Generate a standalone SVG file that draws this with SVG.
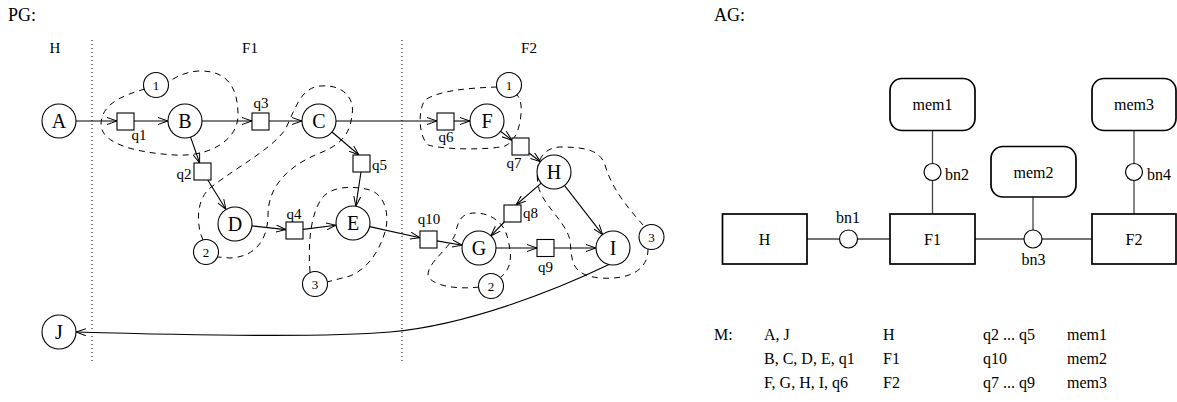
<svg xmlns="http://www.w3.org/2000/svg" width="1177" height="402" viewBox="0 0 1177 402">
<style>
text{font-family:"Liberation Serif","Times New Roman",serif;fill:#000}
.t{font-size:18px}
.lab{font-size:15px}
.q{font-size:15px}
.nl{font-size:20px;text-anchor:middle}
.sn{font-size:13px;text-anchor:middle}
.ag{font-size:16px}
.c{text-anchor:middle}
.node{fill:#fff;stroke:#000;stroke-width:1.1}
.sq{fill:#fff;stroke:#000;stroke-width:1.1}
.e{fill:none;stroke:#000;stroke-width:1.1;marker-end:url(#arr)}
.dash{fill:none;stroke:#000;stroke-width:1;stroke-dasharray:6,5}
.dot{stroke:#000;stroke-width:1;stroke-dasharray:1,3}
.box{fill:#fff;stroke:#000;stroke-width:1.7}
.bn{fill:#fff;stroke:#000;stroke-width:1.2}
.ln{stroke:#444;stroke-width:1.3}
</style>
<defs>
<marker id="arr" viewBox="0 0 10 8" refX="10" refY="4" markerWidth="10" markerHeight="8" markerUnits="userSpaceOnUse" orient="auto">
<path d="M0,0.5 L10,4 L0,7.5" fill="none" stroke="#000" stroke-width="1"/>
</marker>
</defs>
<rect width="1177" height="402" fill="#fff"/>

<!-- ============ PG ============ -->
<text class="t" x="8" y="21">PG:</text>
<g id="columns">
<line class="dot" x1="92" y1="40" x2="92" y2="362"/>
<line class="dot" x1="402" y1="40" x2="402" y2="362"/>
<text class="lab c" x="55" y="53">H</text>
<text class="lab c" x="250" y="53">F1</text>
<text class="lab c" x="529" y="53">F2</text>
</g>

<g id="partitions">
<path class="dash" d="M145,89 C120,96 101,105 101,125 C102,145 140,153 175,155 C210,157 238,140 238,115 C238,85 225,70 198,71 C185,72 176,77 168,82"/>
<path class="dash" d="M203,240 C196,225 196,200 210,188 C240,165 270,150 285,130 C295,110 300,88 320,86 C345,84 355,100 352,115 C350,135 340,145 320,153 C290,165 268,185 268,215 C268,240 255,257 230,258 L218,257"/>
<path class="dash" d="M310,272 C308,245 310,215 322,198 C333,185 355,186 370,190 C385,195 390,215 385,232 C378,255 365,270 350,276 L327,282"/>
<path class="dash" d="M497,87 C470,88 440,90 425,100 C418,110 418,135 428,145 C445,150 490,150 505,146 C518,140 522,120 521,105 C520,100 519,97 517,95"/>
<path class="dash" d="M479,287 C455,290 430,285 428,275 C428,262 448,250 455,235 C458,222 460,213 475,213 C490,213 505,222 508,240 C512,255 512,268 501,277"/>
<path class="dash" d="M643,225 C630,210 612,190 605,165 C600,150 585,147 560,147 C540,148 535,165 538,185 C542,205 565,220 570,240 C572,260 570,275 600,278 C630,280 648,270 648,249"/>
</g>

<g id="connectors">
<line class="e" x1="76" y1="121" x2="117" y2="121"/>
<line class="e" x1="134" y1="121" x2="168" y2="121"/>
<line class="e" x1="202" y1="121" x2="252" y2="121"/>
<line class="e" x1="269" y1="121" x2="302" y2="121"/>
<line class="e" x1="336" y1="121" x2="437" y2="121"/>
<line class="e" x1="454" y1="121" x2="470" y2="121"/>
<line class="e" x1="190.6" y1="137.1" x2="199.6" y2="163"/>
<line class="e" x1="207.8" y1="180" x2="226" y2="209.5"/>
<line class="e" x1="251.9" y1="225.9" x2="286" y2="229.6"/>
<line class="e" x1="303" y1="229.4" x2="336.1" y2="225.2"/>
<line class="e" x1="332" y1="132" x2="359" y2="155"/>
<line class="e" x1="361" y1="172" x2="355.8" y2="206.2"/>
<line class="e" x1="369.6" y1="226.6" x2="420" y2="237.7"/>
<line class="e" x1="437" y1="240.9" x2="462.2" y2="245.2"/>
<line class="e" x1="496" y1="248" x2="537" y2="248"/>
<line class="e" x1="554" y1="248" x2="596" y2="248"/>
<line class="e" x1="500.5" y1="131.3" x2="512" y2="140.2"/>
<line class="e" x1="529" y1="153" x2="540.5" y2="161.7"/>
<line class="e" x1="541.2" y1="183.1" x2="516" y2="205"/>
<line class="e" x1="504.3" y1="222" x2="490.8" y2="235.8"/>
<line class="e" x1="564.4" y1="185.4" x2="602.6" y2="234.6"/>
<path class="e" d="M609,264.5 C560,288 470,325 390,332 C320,338 180,335 76,332"/>
</g>

<g id="node-A"><circle class="node" cx="59" cy="121" r="17"/><text class="nl" x="59" y="128">A</text></g>
<g id="node-B"><circle class="node" cx="185" cy="121" r="17"/><text class="nl" x="185" y="128">B</text></g>
<g id="node-C"><circle class="node" cx="319" cy="121" r="17"/><text class="nl" x="319" y="128">C</text></g>
<g id="node-D"><circle class="node" cx="235" cy="224" r="17"/><text class="nl" x="235" y="231">D</text></g>
<g id="node-E"><circle class="node" cx="353" cy="223" r="17"/><text class="nl" x="353" y="230">E</text></g>
<g id="node-F"><circle class="node" cx="487" cy="121" r="17"/><text class="nl" x="487" y="128">F</text></g>
<g id="node-H"><circle class="node" cx="554" cy="172" r="17"/><text class="nl" x="554" y="179">H</text></g>
<g id="node-G"><circle class="node" cx="479" cy="248" r="17"/><text class="nl" x="479" y="255">G</text></g>
<g id="node-I"><circle class="node" cx="613" cy="248" r="17"/><text class="nl" x="613" y="255">I</text></g>
<g id="node-J"><circle class="node" cx="59" cy="332" r="17"/><text class="nl" x="59" y="339">J</text></g>

<g id="q1"><rect class="sq" x="117" y="113" width="17" height="17"/><text class="q c" x="139" y="140">q1</text></g>
<g id="q2"><rect class="sq" x="194" y="163" width="17" height="17"/><text class="q c" x="184" y="179">q2</text></g>
<g id="q3"><rect class="sq" x="252" y="113" width="17" height="17"/><text class="q c" x="261" y="108">q3</text></g>
<g id="q4"><rect class="sq" x="286" y="222" width="17" height="17"/><text class="q c" x="294" y="219">q4</text></g>
<g id="q5"><rect class="sq" x="353" y="155" width="17" height="17"/><text class="q" x="372" y="170">q5</text></g>
<g id="q6"><rect class="sq" x="437" y="113" width="17" height="17"/><text class="q c" x="446" y="142">q6</text></g>
<g id="q7"><rect class="sq" x="512" y="138" width="17" height="17"/><text class="q c" x="514" y="168">q7</text></g>
<g id="q8"><rect class="sq" x="504" y="205" width="17" height="17"/><text class="q" x="523" y="218">q8</text></g>
<g id="q9"><rect class="sq" x="537" y="239.5" width="17" height="17"/><text class="q c" x="545.5" y="272">q9</text></g>
<g id="q10"><rect class="sq" x="420" y="231" width="17" height="17"/><text class="q c" x="429" y="224">q10</text></g>

<g id="p1-F1"><circle class="node" cx="156" cy="85" r="12.5"/><text class="sn" x="156" y="89.5">1</text></g>
<g id="p2-F1"><circle class="node" cx="206" cy="252" r="12.5"/><text class="sn" x="206" y="256.5">2</text></g>
<g id="p3-F1"><circle class="node" cx="315" cy="284" r="12.5"/><text class="sn" x="315" y="288.5">3</text></g>
<g id="p1-F2"><circle class="node" cx="509" cy="85" r="12.5"/><text class="sn" x="509" y="89.5">1</text></g>
<g id="p2-F2"><circle class="node" cx="491" cy="286" r="12.5"/><text class="sn" x="491" y="290.5">2</text></g>
<g id="p3-F2"><circle class="node" cx="651.5" cy="237" r="12.5"/><text class="sn" x="651.5" y="241.5">3</text></g>

<!-- ============ AG ============ -->
<text class="t" x="714" y="21">AG:</text>
<g id="ag-connectors">
<line class="ln" x1="807" y1="239" x2="839.5" y2="239"/>
<line class="ln" x1="857.5" y1="239" x2="890" y2="239"/>
<line class="ln" x1="975" y1="239" x2="1024" y2="239"/>
<line class="ln" x1="1042" y1="239" x2="1092" y2="239"/>
<line class="ln" x1="932.5" y1="131" x2="932.5" y2="163.5"/>
<line class="ln" x1="932.5" y1="180.5" x2="932.5" y2="214"/>
<line class="ln" x1="1033" y1="197" x2="1033" y2="230"/>
<line class="ln" x1="1134" y1="131" x2="1134" y2="163.5"/>
<line class="ln" x1="1134" y1="180.5" x2="1134" y2="214"/>
</g>
<g id="ag-H"><rect class="box" x="722.5" y="214" width="84.5" height="50"/><text class="ag c" x="764.5" y="245">H</text></g>
<g id="ag-F1"><rect class="box" x="890" y="214" width="85" height="50"/><text class="ag c" x="932.5" y="245">F1</text></g>
<g id="ag-F2"><rect class="box" x="1092" y="214" width="84" height="50"/><text class="ag c" x="1134" y="245">F2</text></g>
<g id="ag-mem1"><rect class="box" x="890" y="78.5" width="85" height="52" rx="12"/><text class="ag c" x="932.5" y="110">mem1</text></g>
<g id="ag-mem2"><rect class="box" x="991" y="146.5" width="85" height="50.5" rx="12"/><text class="ag c" x="1033.5" y="178">mem2</text></g>
<g id="ag-mem3"><rect class="box" x="1092" y="78.5" width="84" height="52" rx="12"/><text class="ag c" x="1134" y="110">mem3</text></g>
<g id="ag-bn1"><circle class="bn" cx="848.5" cy="239" r="9"/><text class="ag c" x="848" y="223">bn1</text></g>
<g id="ag-bn2"><circle class="bn" cx="932.5" cy="172" r="8.5"/><text class="ag" x="945" y="180">bn2</text></g>
<g id="ag-bn3"><circle class="bn" cx="1033" cy="239" r="9"/><text class="ag c" x="1033.5" y="265">bn3</text></g>
<g id="ag-bn4"><circle class="bn" cx="1134" cy="172" r="8.5"/><text class="ag" x="1147" y="180">bn4</text></g>

<g id="legend" class="ag">
<text x="714" y="340">M:</text>
<text x="764" y="340">A, J</text>
<text x="883" y="340">H</text>
<text x="983" y="340">q2 ... q5</text>
<text x="1067" y="340">mem1</text>
<text x="764" y="364">B, C, D, E, q1</text>
<text x="883" y="364">F1</text>
<text x="983" y="364">q10</text>
<text x="1067" y="364">mem2</text>
<text x="764" y="388">F, G, H, I, q6</text>
<text x="883" y="388">F2</text>
<text x="983" y="388">q7 ... q9</text>
<text x="1067" y="388">mem3</text>
</g>
</svg>
